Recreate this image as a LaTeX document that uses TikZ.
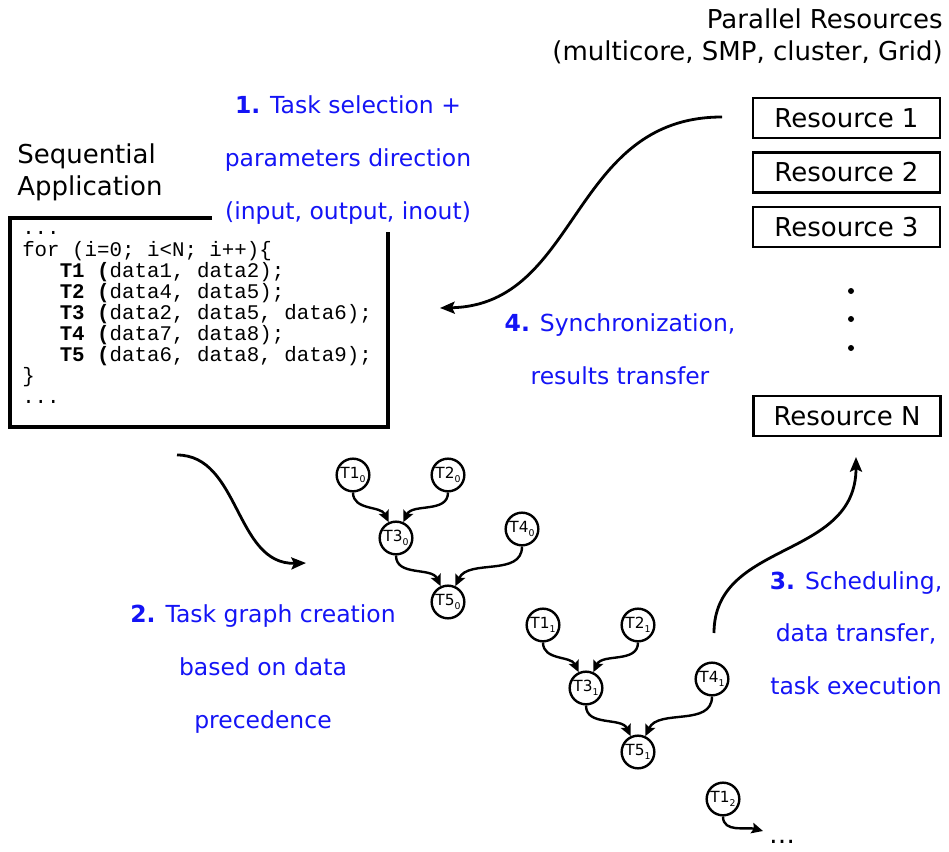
\documentclass[tikz,border=0pt]{standalone}
\usepackage{fontspec}
\setmainfont{DejaVu Sans}
\setmonofont{Liberation Mono}
\usetikzlibrary{arrows.meta}
\definecolor{stepblue}{RGB}{20,20,245}
\newcommand{\tsk}[2]{T#1\raisebox{-0.45ex}{\fontsize{7}{7}\selectfont #2}}
\begin{document}
\begin{tikzpicture}[x=0.75pt,y=-0.75pt,
  lbl/.style={font=\fontsize{19.5}{24}\selectfont, inner sep=0},
  steptxt/.style={text=stepblue, align=center, font=\fontsize{17.6}{39.5}\selectfont, inner sep=0},
  res/.style={draw, line width=1.8pt, minimum width=140pt, minimum height=30pt, inner sep=0, font=\fontsize{19.5}{24}\selectfont},
  codeline/.style={anchor=base west, inner sep=0, font=\ttfamily\fontsize{15.6}{16}\selectfont},
  task/.style={circle, draw, line width=1.8pt, minimum size=24.5pt, inner sep=0, font=\fontsize{11.5}{11.5}\selectfont},
  bigarrow/.style={line width=2.1pt, -{Stealth[length=11pt,width=9pt,inset=2pt]}},
  gedge/.style={line width=1.8pt, -{Stealth[length=8.5pt,width=8pt,inset=1.5pt]}},
  rdot/.style={circle, fill, inner sep=0, minimum size=4.5pt}
  ]
\useasboundingbox (0,0) rectangle (949,852);

% headers
\node[lbl, align=right, anchor=east] (par) at (943,36) {Parallel Resources\\(multicore, SMP, cluster, Grid)};
\node[lbl, align=left, anchor=west] (seq) at (17,172) {Sequential\\Application};

% resources
\node[res] (r1) at (846.5,118) {Resource 1};
\node[res] (r2) at (846.5,172.5) {Resource 2};
\node[res] (r3) at (846.5,227) {Resource 3};
\node[res] (rn) at (847,416) {Resource N};
\node[rdot] (d1) at (851,291) {};
\node[rdot] (d2) at (851,319) {};
\node[rdot] (d3) at (851,348) {};

% code box
\draw[line width=2.6pt] (212,218) -- (10,218) -- (10,427) -- (388,427) -- (388,232);
\node[codeline] (c0) at (22,235) {...};
\node[codeline] (c1) at (22,256.1) {for (i=0; i<N; i++)\{};
\node[codeline] (c2) at (59.5,277.2) {\textbf{T1 (}data1, data2);};
\node[codeline] (c3) at (59.5,298.3) {\textbf{T2 (}data4, data5);};
\node[codeline] (c4) at (59.5,319.4) {\textbf{T3 (}data2, data5, data6);};
\node[codeline] (c5) at (59.5,340.5) {\textbf{T4 (}data7, data8);};
\node[codeline] (c6) at (59.5,361.6) {\textbf{T5 (}data6, data8, data9);};
\node[codeline] (c7) at (22,382.7) {\}};
\node[codeline] (c8) at (22,403.8) {...};

% step labels
\node[steptxt] (s1) at (348,160) {\textbf{1.} Task selection +\\parameters direction\\(input, output, inout)};
\node[steptxt] (s4) at (620,349) {\textbf{4.} Synchronization,\\results transfer};
\node[steptxt] (s2) at (263,669) {\textbf{2.} Task graph creation\\based on data\\precedence};
\node[steptxt] (s3) at (856,633) {\textbf{3.} Scheduling,\\data transfer,\\task execution};

% big arrows
\coordinate (a4s) at (722,117); \coordinate (a4e) at (440,308);
\draw[bigarrow] (a4s) .. controls (570,117) and (580,305) .. (a4e);
\coordinate (a2s) at (177,455); \coordinate (a2e) at (306,563);
\draw[bigarrow] (a2s) .. controls (240,455) and (235,565) .. (a2e);
\coordinate (a3s) at (714,633); \coordinate (a3e) at (856,457);
\draw[bigarrow] (a3s) .. controls (714,540) and (856,560) .. (a3e);

% task graph 0
\node[task] (t10) at (353,475) {\tsk{1}{0}};
\node[task] (t20) at (448,475) {\tsk{2}{0}};
\node[task] (t30) at (396,538) {\tsk{3}{0}};
\node[task] (t40) at (522,529) {\tsk{4}{0}};
\node[task] (t50) at (448,602) {\tsk{5}{0}};
\draw[gedge] (t10) to[out=-90,in=115] (t30);
\draw[gedge] (t20) to[out=-90,in=65] (t30);
\draw[gedge] (t30) to[out=-90,in=115] (t50);
\draw[gedge] (t40) to[out=-90,in=65] (t50);

% task graph 1
\node[task] (t11) at (543,625) {\tsk{1}{1}};
\node[task] (t21) at (638,625) {\tsk{2}{1}};
\node[task] (t31) at (586,688) {\tsk{3}{1}};
\node[task] (t41) at (712,679) {\tsk{4}{1}};
\node[task] (t51) at (638,752) {\tsk{5}{1}};
\draw[gedge] (t11) to[out=-90,in=115] (t31);
\draw[gedge] (t21) to[out=-90,in=65] (t31);
\draw[gedge] (t31) to[out=-90,in=115] (t51);
\draw[gedge] (t41) to[out=-90,in=65] (t51);

% task 1_2
\node[task] (t12) at (723,799) {\tsk{1}{2}};
\coordinate (e12) at (763,831);
\draw[gedge] (t12) to[out=-90,in=165] (e12);
\node[lbl, anchor=base] (more) at (782,843) {\ldots};
\end{tikzpicture}
\end{document}
